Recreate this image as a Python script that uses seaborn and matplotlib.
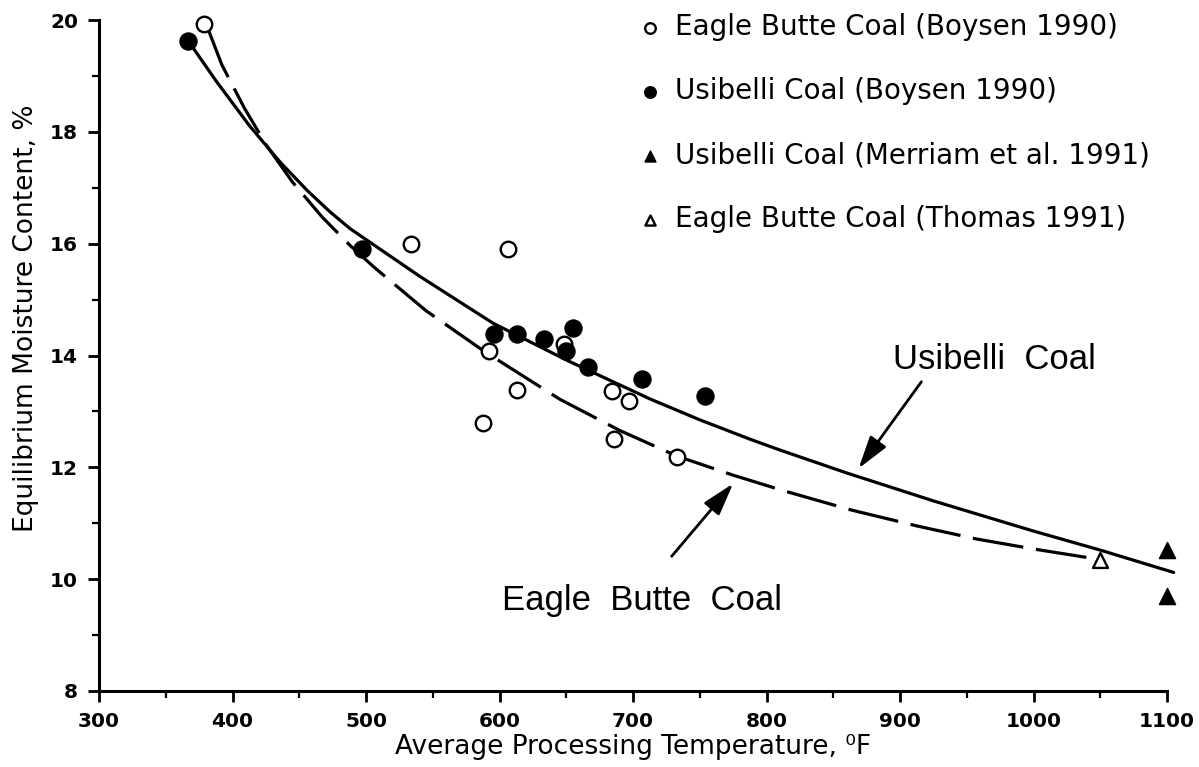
import matplotlib
matplotlib.use("Agg")
import matplotlib.pyplot as plt
import seaborn as sns
import pandas as pd
from matplotlib.ticker import MultipleLocator

# ---------------- data ----------------
# Eagle Butte Coal (Boysen 1990) - open circles
eb_boysen_temp = [379, 534, 606, 592, 648, 613, 588, 684, 697, 686, 733]
eb_boysen_moist = [19.93, 16.0, 15.9, 14.08, 14.2, 13.39, 12.8, 13.37, 13.18, 12.5, 12.18]
# Usibelli Coal (Boysen 1990) - filled circles
us_boysen_temp = [367, 497, 596, 613, 633, 655, 650, 666, 707, 754]
us_boysen_moist = [19.62, 15.9, 14.39, 14.39, 14.3, 14.5, 14.08, 13.79, 13.58, 13.28]
# Usibelli Coal (Merriam et al. 1991) - filled triangles
us_merriam_temp = [1100, 1100]
us_merriam_moist = [10.53, 9.70]
# Eagle Butte Coal (Thomas 1991) - open triangle
eb_thomas_temp = [1050]
eb_thomas_moist = [10.35]

# fitted curves
us_curve_temp = [367, 388, 413, 436, 456, 473, 488, 540, 595, 650, 713, 750, 788, 810, 860,
                 925, 1000, 1050, 1105]
us_curve_moist = [19.62, 18.90, 18.10, 17.45, 16.95, 16.57, 16.27, 15.42, 14.58, 13.92, 13.22,
                  12.85, 12.50, 12.31, 11.90, 11.40, 10.86, 10.52, 10.12]
eb_curve_temp = [382, 392, 409, 426, 445, 467, 488, 506, 545, 584, 602, 645, 690, 733, 775,
                 813, 863, 913, 957, 1000, 1050]
eb_curve_moist = [19.82, 19.20, 18.42, 17.74, 17.10, 16.48, 15.97, 15.58, 14.80, 14.15, 13.87,
                  13.22, 12.66, 12.20, 11.86, 11.58, 11.24, 10.95, 10.72, 10.54, 10.35]

labels = ["Eagle Butte Coal (Boysen 1990)", "Usibelli Coal (Boysen 1990)",
          "Usibelli Coal (Merriam et al. 1991)", "Eagle Butte Coal (Thomas 1991)"]
x_label = "Average Processing Temperature, \u2070F"
y_label = "Equilibrium Moisture Content, %"
curve_names = ["Usibelli  Coal", "Eagle  Butte  Coal"]

# ---------------- figure ----------------
sns.set_style("ticks")
plt.rcParams["font.family"] = ["DejaVu Sans"]
for key in ("text.color", "axes.labelcolor", "xtick.color", "ytick.color", "axes.edgecolor"):
    plt.rcParams[key] = "black"

W, H = 1199, 767
fig = plt.figure(figsize=(W / 100, H / 100), dpi=100)
ax = fig.add_axes([99 / W, (H - 691) / H, 1068 / W, 671 / H])

us_df = pd.DataFrame({"t": us_curve_temp, "m": us_curve_moist})
eb_df = pd.DataFrame({"t": eb_curve_temp, "m": eb_curve_moist})
sns.lineplot(data=us_df, x="t", y="m", sort=False, estimator=None, color="black",
             lw=2.3, ax=ax)
sns.lineplot(data=eb_df, x="t", y="m", sort=False, estimator=None, color="black",
             lw=2.3, ax=ax)
lines = ax.get_lines()
lines[1].set_dashes([16, 4])
for ln in lines:
    ln.set_clip_on(False)
    ln.set_solid_joinstyle("round")

k = dict(ax=ax, zorder=5, clip_on=False, legend=False)
sns.scatterplot(x=eb_boysen_temp, y=eb_boysen_moist, marker="o", s=125, color="white",
                edgecolor="black", linewidth=1.7, **k)
sns.scatterplot(x=us_boysen_temp, y=us_boysen_moist, marker="o", s=150, color="black",
                edgecolor="black", linewidth=1, **k)
sns.scatterplot(x=us_merriam_temp, y=us_merriam_moist, marker="^", s=135, color="black",
                edgecolor="black", linewidth=1, **k)
sns.scatterplot(x=eb_thomas_temp, y=eb_thomas_moist, marker="^", s=115, color="white",
                edgecolor="black", linewidth=1.7, **k)

ax.set_xlim(300, 1100)
ax.set_ylim(8, 20)
ax.xaxis.set_major_locator(MultipleLocator(100))
ax.xaxis.set_minor_locator(MultipleLocator(50))
ax.yaxis.set_major_locator(MultipleLocator(2))
ax.yaxis.set_minor_locator(MultipleLocator(1))
sns.despine(ax=ax)
for s in ("left", "bottom"):
    ax.spines[s].set_linewidth(2.2)
ax.tick_params(which="major", direction="out", length=8, width=2, labelsize=14.5, pad=7)
ax.tick_params(which="minor", direction="out", length=5, width=1.6)
for t in ax.get_xticklabels() + ax.get_yticklabels():
    t.set_fontweight("bold")

ax.set_xlabel(x_label, fontsize=19)
ax.set_ylabel(y_label, fontsize=19)
ax.xaxis.set_label_coords(0.5, -0.064)
ax.yaxis.set_label_coords(-0.056, 0.555)

# legend
leg = ax.legend(handles=ax.collections[:4], labels=labels, loc="upper left",
                bbox_to_anchor=(642 / W, (H - 13) / H), bbox_transform=fig.transFigure,
                frameon=False, fontsize=20, handlelength=0.6, handletextpad=0.6,
                labelspacing=1.3, markerscale=0.68, borderpad=0, borderaxespad=0)

# annotations
ann_font = dict(family="Liberation Sans", fontsize=25, color="black")
ax.text(971, 13.92, curve_names[0], ha="center", va="center", **ann_font)
ax.text(707, 9.62, curve_names[1], ha="center", va="center", **ann_font)
arrow = dict(arrowstyle="-|>,head_length=1.0,head_width=0.3", color="black", lw=2,
             mutation_scale=20, shrinkA=0, shrinkB=0)
ax.annotate("", xy=(869, 11.98), xytext=(916, 13.53), arrowprops=arrow)
ax.annotate("", xy=(775, 11.71), xytext=(729, 10.41), arrowprops=arrow)

fig.savefig("out.png", dpi=100)
